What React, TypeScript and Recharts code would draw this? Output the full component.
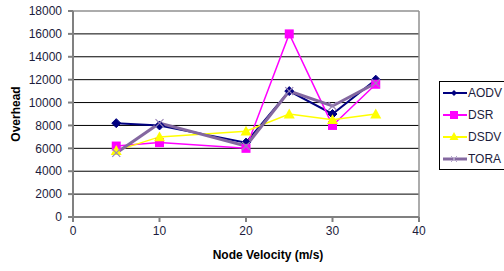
import React from 'react';
import { LineChart, Line, XAxis, YAxis, CartesianGrid, ReferenceLine } from 'recharts';

const velocities = [5, 10, 20, 25, 30, 35];
const aodv = [8200, 8000, 6500, 11000, 9000, 12000];
const dsr = [6200, 6500, 6000, 16000, 8000, 11600];
const dsdv = [5800, 7000, 7500, 9000, 8500, 9000];
const tora = [5600, 8200, 6200, 11000, 9700, 11700];
const xTicks = [0, 10, 20, 30, 40];
const yTicks = [0, 2000, 4000, 6000, 8000, 10000, 12000, 14000, 16000, 18000];
const seriesNames = ['AODV', 'DSR', 'DSDV', 'TORA'];

const data = velocities.map((v, i) => ({ v, AODV: aodv[i], DSR: dsr[i], DSDV: dsdv[i], TORA: tora[i] }));

const colors: Record<string, string> = {
  AODV: '#000080',
  DSR: '#ff00ff',
  DSDV: '#ffff00',
  TORA: '#8468a0',
};

const Diamond = (p: any) => {
  const { cx, cy } = p;
  if (cx == null || cy == null) return null;
  const s = 4.5;
  return <path d={`M${cx},${cy - s}L${cx + s},${cy}L${cx},${cy + s}L${cx - s},${cy}Z`} fill="#000080" stroke="#000080" />;
};
const Square = (p: any) => {
  const { cx, cy } = p;
  if (cx == null || cy == null) return null;
  const s = 4.5;
  return <rect x={cx - s} y={cy - s} width={2 * s} height={2 * s} fill="#ff00ff" />;
};
const Triangle = (p: any) => {
  const { cx, cy } = p;
  if (cx == null || cy == null) return null;
  const s = 5.5;
  return <path d={`M${cx},${cy - s}L${cx + s},${cy + s * 0.8}L${cx - s},${cy + s * 0.8}Z`} fill="#ffff00" />;
};
const Cross = (p: any) => {
  const { cx, cy } = p;
  if (cx == null || cy == null) return null;
  const s = 4;
  return (
    <path d={`M${cx - s},${cy - s}L${cx + s},${cy + s}M${cx - s},${cy + s}L${cx + s},${cy - s}`} stroke="#9a86b8" strokeWidth={1.2} fill="none" />
  );
};

const legendIcon = (name: string) => {
  const c = colors[name];
  const mid = 11;
  let marker: React.ReactNode = null;
  if (name === 'AODV') marker = <path d={`M${mid},4L${mid + 3},7L${mid},10L${mid - 3},7Z`} fill={c} />;
  if (name === 'DSR') marker = <rect x={mid - 4} y={3} width={8} height={8} fill={c} />;
  if (name === 'DSDV') marker = <path d={`M${mid},2L${mid + 4.5},10L${mid - 4.5},10Z`} fill={c} />;
  if (name === 'TORA') marker = <path d={`M${mid - 3},4L${mid + 3},10M${mid - 3},10L${mid + 3},4`} stroke="#b0a0c8" strokeWidth={1} />;
  return (
    <svg width={24} height={14} style={{ display: 'block' }}>
      <line x1={0} y1={7} x2={24} y2={7} stroke={c} strokeWidth={name === 'TORA' ? 3 : 2} />
      {marker}
    </svg>
  );
};

export default function App() {
  const font = '"Liberation Sans", Arial, sans-serif';
  return (
    <div style={{ position: 'absolute', left: 0, top: 0, width: 504, height: 271, background: '#fff', fontFamily: font }}>
      <LineChart width={504} height={271} data={data} margin={{ top: 11, right: 85, bottom: 10, left: 10 }}>
        <CartesianGrid vertical={false} stroke="#000" strokeWidth={1} horizontalValues={yTicks.slice(1, -1)} />
        <ReferenceLine y={18000} stroke="#909090" strokeWidth={1.5} />
        <ReferenceLine x={40} stroke="#909090" strokeWidth={1.5} />
        <XAxis
          dataKey="v"
          type="number"
          domain={[0, 40]}
          ticks={xTicks}
          height={44}
          stroke="#808080"
          strokeWidth={2}
          tickSize={5}
          tickMargin={4}
          tick={{ fill: '#1c1c3c', fontSize: 12, fontFamily: font }}
          label={{ value: 'Node Velocity (m/s)', position: 'insideBottom', offset: 2, dx: 22, style: { fontWeight: 'bold', fontSize: 12, fill: '#000', fontFamily: font } }}
        />
        <YAxis
          type="number"
          domain={[0, 18000]}
          ticks={yTicks}
          width={63}
          stroke="#808080"
          strokeWidth={2}
          tickSize={5}
          tickMargin={6}
          interval={0}
          tick={{ fill: '#1c1c3c', fontSize: 12, fontFamily: font }}
          label={{ value: 'Overhead', angle: -90, position: 'insideLeft', offset: 6, dy: 0, style: { fontWeight: 'bold', fontSize: 12, fill: '#000', fontFamily: font, textAnchor: 'middle' } }}
        />
        <Line dataKey="AODV" stroke={colors.AODV} strokeWidth={2} dot={<Diamond />} activeDot={false} isAnimationActive={false} />
        <Line dataKey="DSR" stroke={colors.DSR} strokeWidth={1.5} dot={<Square />} activeDot={false} isAnimationActive={false} />
        <Line dataKey="DSDV" stroke={colors.DSDV} strokeWidth={1.5} dot={<Triangle />} activeDot={false} isAnimationActive={false} />
        <Line dataKey="TORA" stroke={colors.TORA} strokeWidth={3} dot={<Cross />} activeDot={false} isAnimationActive={false} />
      </LineChart>
      <div
        style={{
          position: 'absolute',
          left: 439,
          top: 81,
          width: 70,
          height: 89,
          border: '1px solid #000',
          boxSizing: 'border-box',
          paddingTop: 0,
          paddingLeft: 3,
        }}
      >
        {seriesNames.map((n) => (
          <div key={n} style={{ display: 'flex', alignItems: 'center', height: 22, fontSize: 12, color: '#1c1c3c' }}>
            {legendIcon(n)}
            <span style={{ marginLeft: 1 }}>{n}</span>
          </div>
        ))}
      </div>
    </div>
  );
}
